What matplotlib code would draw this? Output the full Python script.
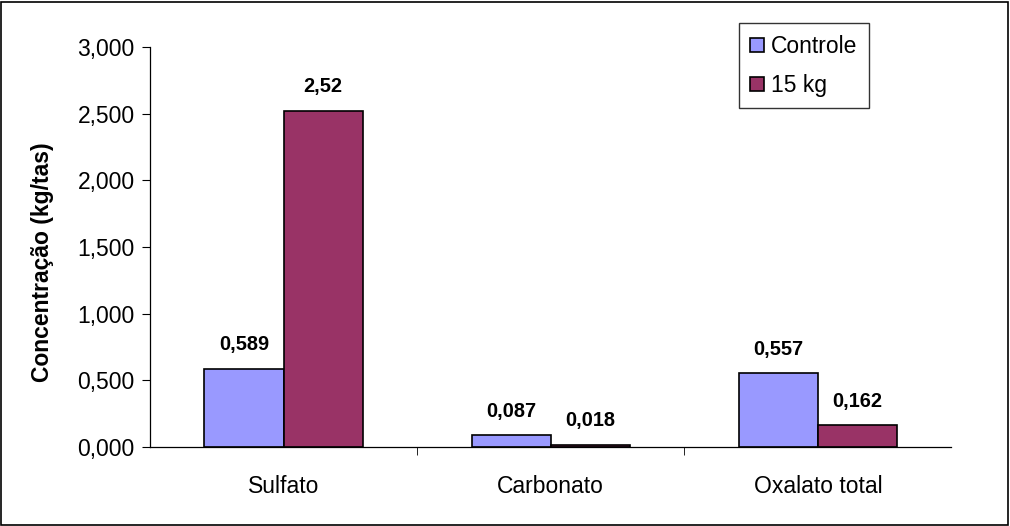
import matplotlib
matplotlib.use("Agg")
import matplotlib.pyplot as plt
from matplotlib.ticker import FuncFormatter
from matplotlib.patches import Rectangle
import numpy as np

categories = ["Sulfato", "Carbonato", "Oxalato total"]
controle = [0.589, 0.087, 0.557]
kg15 = [2.52, 0.018, 0.162]
labels_controle = ["0,589", "0,087", "0,557"]
labels_kg15 = ["2,52", "0,018", "0,162"]
series_names = ["Controle", "15 kg"]
yticks = [0, 0.5, 1.0, 1.5, 2.0, 2.5, 3.0]

plt.rcParams['font.family'] = ['Liberation Sans', 'DejaVu Sans']

fig = plt.figure(figsize=(10.1, 5.26), dpi=100)
fig.patches.append(Rectangle((0.001, 0.001), 0.997, 0.996, transform=fig.transFigure,
                             fill=False, edgecolor='black', linewidth=1.2))
ax = fig.add_axes([0.1485, 0.150, 0.7935, 0.7606])

x = np.arange(len(categories))
w = 0.296
b1 = ax.bar(x - w/2, controle, w, color='#9999FF', edgecolor='black', linewidth=1.2, label=series_names[0])
b2 = ax.bar(x + w/2, kg15, w, color='#993366', edgecolor='black', linewidth=1.2, label=series_names[1])

for rect, lab in zip(b1, labels_controle):
    ax.annotate(lab, (rect.get_x() + rect.get_width()/2, rect.get_height()),
                xytext=(0, 17), textcoords='offset points', ha='center', va='center',
                fontsize=14.4, fontweight='bold')
for rect, lab in zip(b2, labels_kg15):
    ax.annotate(lab, (rect.get_x() + rect.get_width()/2, rect.get_height()),
                xytext=(0, 17.5), textcoords='offset points', ha='center', va='center',
                fontsize=14.4, fontweight='bold')

ax.set_xlim(-0.5, 2.5)
ax.set_ylim(0, 3.0)
ax.set_yticks(yticks)
ax.yaxis.set_major_formatter(FuncFormatter(lambda v, p: f"{v:.3f}".replace('.', ',')))
ax.set_xticks(x)
ax.set_xticklabels(categories)
ax.set_xticks([0.5, 1.5], minor=True)
ax.tick_params(axis='x', which='major', length=0, pad=20, labelsize=16.5)
ax.tick_params(axis='x', which='minor', length=6, direction='out')
ax.tick_params(axis='y', length=6, direction='out', labelsize=16.5, pad=5)
for s in ['top', 'right']:
    ax.spines[s].set_visible(False)
ax.spines['left'].set_linewidth(0.9)
ax.spines['bottom'].set_linewidth(0.9)
ax.set_ylabel("Concentração (kg/tas)", fontsize=16.5, fontweight='bold')
ax.yaxis.set_label_coords(-0.12, 0.4625)

leg = ax.legend(loc='upper left', bbox_to_anchor=(0.735, 1.059), fontsize=16.5, frameon=True,
                fancybox=False, edgecolor='black', handlelength=0.6, handleheight=0.6,
                handletextpad=0.3, labelspacing=0.7, borderpad=0.5, borderaxespad=0)
leg.get_frame().set_linewidth(1.0)

fig.savefig("out.png", dpi=100)
